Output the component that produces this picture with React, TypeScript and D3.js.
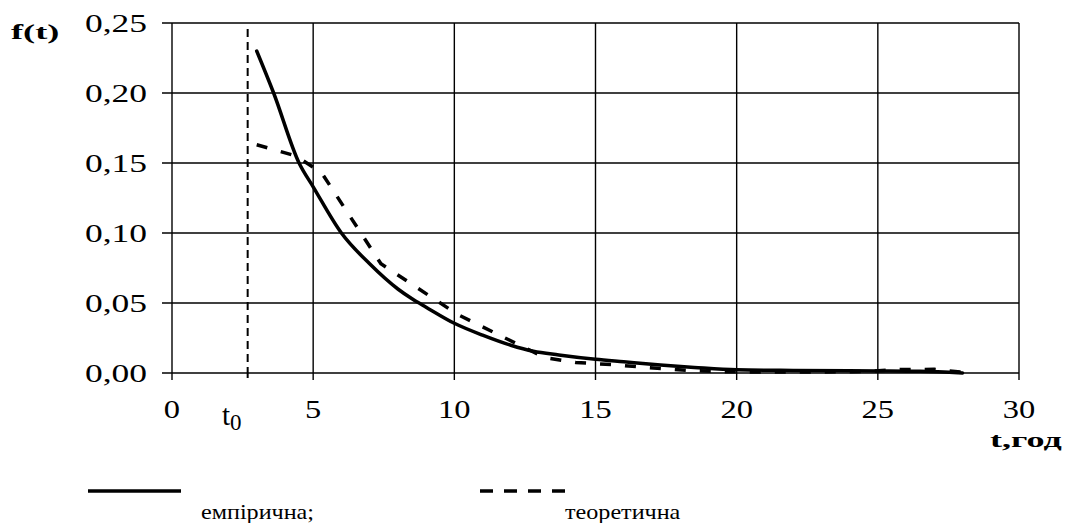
import React from 'react';
import * as d3 from 'd3';

const empT = [3, 3.6, 4.5, 5, 6, 7, 8, 8.5, 9, 10, 11, 12, 12.8, 13.7, 15, 16, 17.3, 18.5, 20, 22, 25, 26.5, 28];
const empF = [0.23, 0.2, 0.15, 0.133, 0.1, 0.078, 0.06, 0.053, 0.047, 0.0355, 0.027, 0.0198, 0.0155, 0.0129, 0.0098, 0.008, 0.0057, 0.004, 0.0023, 0.0018, 0.0015, 0.0012, 0.0];

// theoretical density
const theoT = [3.0, 4.4, 5.3, 7.4, 10.1, 13.2, 14.3, 15.6, 16.9, 18.2, 19.4, 20.6, 22.5, 24.5, 25.8, 27.0, 28.0];
const theoF = [0.163, 0.155, 0.143, 0.078, 0.042, 0.011, 0.0075, 0.006, 0.0038, 0.002, 0.001, 0.0007, 0.0007, 0.001, 0.0025, 0.0026, 0.0005];

const xTicks = [0, 5, 10, 15, 20, 25, 30];
const yTicks = [0, 0.05, 0.1, 0.15, 0.2, 0.25];
const t0 = 2.68;
const seriesNames = ['емпірична;', 'теоретична'];

const W = 1069;
const H = 523;
const serif = '"Liberation Serif", "Times New Roman", serif';

function Stretched({ x, y, sx, size, anchor, bold, children }: any) {
  return (
    <text
      transform={`translate(${x},${y}) scale(${sx},1)`}
      fontFamily={serif}
      fontSize={size}
      fontWeight={bold ? 'bold' : 'normal'}
      textAnchor={anchor || 'start'}
      fill="#000"
    >
      {children}
    </text>
  );
}

export default function App() {
  const x = d3.scaleLinear().domain([0, 30]).range([172, 1019]);
  const y = d3.scaleLinear().domain([0, 0.25]).range([373, 23]);
  const fmt = (v: number) => d3.format('.2f')(v).replace('.', ',');

  const theoLine = d3.line<[number, number]>()
    .x(d => x(d[0]))
    .y(d => y(d[1]));
  const empLine = d3.line<[number, number]>()
    .x(d => x(d[0]))
    .y(d => y(d[1]))
    .curve(d3.curveMonotoneX);

  const emp = empT.map((t, i) => [t, empF[i]] as [number, number]);
  const theo = theoT.map((t, i) => [t, theoF[i]] as [number, number]);

  return (
    <div style={{ position: 'absolute', left: 0, top: 0 }}>
      <svg width={W} height={H} style={{ display: 'block', background: '#fff' }}>
        {/* horizontal grid + ticks */}
        {yTicks.map(v => (
          <line key={'h' + v} x1={x(0) - 10} x2={x(30)} y1={y(v)} y2={y(v)} stroke="#000" strokeWidth={1.4} />
        ))}
        {/* vertical grid + ticks */}
        {xTicks.map(v => (
          <line key={'v' + v} x1={x(v)} x2={x(v)} y1={y(0.25)} y2={y(0) + 7} stroke="#000" strokeWidth={1.4} />
        ))}
        {/* t0 marker */}
        <line x1={x(t0)} x2={x(t0)} y1={y(0.25) + 6} y2={y(0)} stroke="#000" strokeWidth={2} strokeDasharray="8,5" />
        <line x1={x(t0)} x2={x(t0)} y1={y(0)} y2={y(0) + 5} stroke="#000" strokeWidth={2} />

        {/* series */}
        <path d={theoLine(theo) || ''} fill="none" stroke="#000" strokeWidth={3.5} strokeDasharray="11,14" />
        <path d={empLine(emp) || ''} fill="none" stroke="#000" strokeWidth={3.5} strokeLinejoin="round" strokeLinecap="round" />

        {/* y tick labels */}
        {yTicks.map(v => (
          <Stretched key={'yl' + v} x={147} y={y(v) + 9} sx={1.42} size={25} anchor="end">{fmt(v)}</Stretched>
        ))}
        {/* x tick labels */}
        {xTicks.map(v => (
          <Stretched key={'xl' + v} x={x(v)} y={418} sx={1.3} size={25} anchor="middle">{v}</Stretched>
        ))}

        {/* t0 label */}
        <text x={222} y={425} fontFamily={serif} fontSize={29} fill="#000">
          t<tspan fontSize={23} dy={5}>0</tspan>
        </text>

        {/* axis titles */}
        <Stretched x={11} y={39} sx={1.65} size={22} bold>f(t)</Stretched>
        <Stretched x={990} y={447} sx={1.72} size={21} bold>t,год</Stretched>

        {/* legend */}
        <line x1={88} x2={181} y1={491} y2={491} stroke="#000" strokeWidth={3.5} />
        <Stretched x={201} y={519} sx={1.15} size={21}>{seriesNames[0]}</Stretched>
        <line x1={480} x2={566} y1={491} y2={491} stroke="#000" strokeWidth={3.5} strokeDasharray="13,11" />
        <Stretched x={565} y={519} sx={1.15} size={21}>{seriesNames[1]}</Stretched>
      </svg>
    </div>
  );
}
